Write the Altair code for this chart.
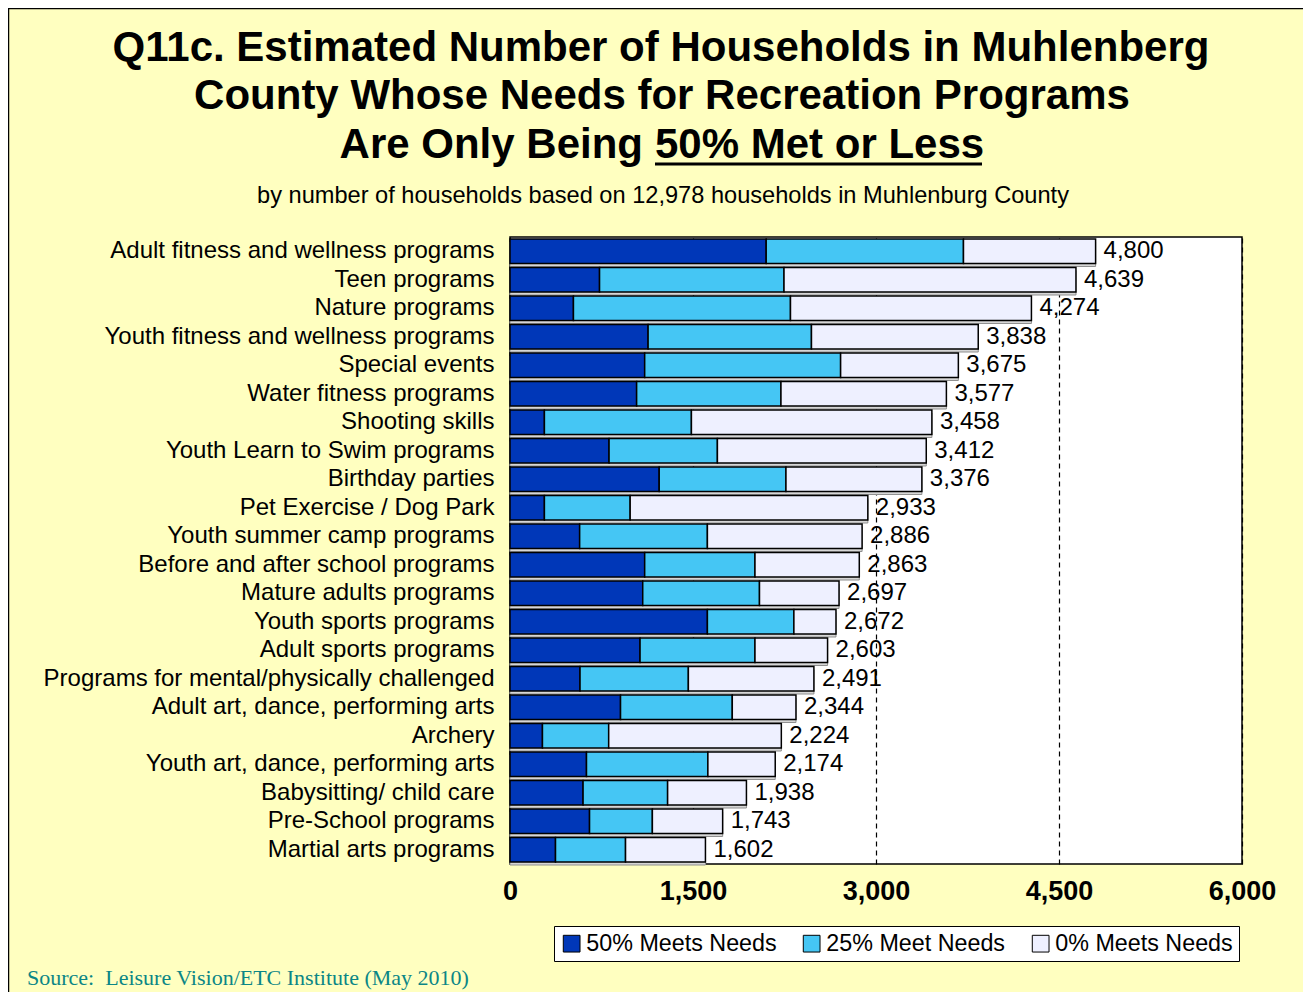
import altair as alt
import pandas as pd

categories = [
    "Adult fitness and wellness programs",
    "Teen programs",
    "Nature programs",
    "Youth fitness and wellness programs",
    "Special events",
    "Water fitness programs",
    "Shooting skills",
    "Youth Learn to Swim programs",
    "Birthday parties",
    "Pet Exercise / Dog Park",
    "Youth summer camp programs",
    "Before and after school programs",
    "Mature adults programs",
    "Youth sports programs",
    "Adult sports programs",
    "Programs for mental/physically challenged",
    "Adult art, dance, performing arts",
    "Archery",
    "Youth art, dance, performing arts",
    "Babysitting/ child care",
    "Pre-School programs",
    "Martial arts programs",
]
meets_50 = [2100, 734, 520, 1132, 1104, 1038, 282, 812, 1223, 282, 571,
            1104, 1088, 1618, 1066, 574, 906, 266, 627, 599, 652, 373]
meets_25 = [1617, 1512, 1779, 1339, 1606, 1183, 1205, 888, 1039, 703, 1047,
            904, 957, 709, 942, 888, 916, 543, 995, 693, 515, 574]
meets_0 = [1083, 2393, 1975, 1367, 965, 1356, 1971, 1712, 1114, 1948, 1268,
           855, 652, 345, 595, 1029, 522, 1415, 552, 646, 576, 655]
totals = [4800, 4639, 4274, 3838, 3675, 3577, 3458, 3412, 3376, 2933, 2886,
          2863, 2697, 2672, 2603, 2491, 2344, 2224, 2174, 1938, 1743, 1602]
levels = ["50% Meets Needs", "25% Meet Needs", "0% Meets Needs"]
x_ticks = [0, 1500, 3000, 4500, 6000]

title_lines = [
    "Q11c. Estimated Number of Households in Muhlenberg",
    "County Whose Needs for Recreation Programs",
]
title_line3a = "Are Only Being"
title_line3b = "50% Met or Less"
subtitle = "by number of households based on 12,978 households in Muhlenburg County"
source = "Source:\u00a0 Leisure Vision/ETC Institute (May 2010)"

colors = ["#0037B8", "#45C6F4", "#EEF0FF"]

rows = []
for i, c in enumerate(categories):
    for j, vals in enumerate([meets_50, meets_25, meets_0]):
        rows.append({"cat": c, "level": levels[j], "idx": j, "value": vals[i]})
long_df = pd.DataFrame(rows)
tot_df = pd.DataFrame({"cat": categories, "total": totals})

FONT = "Liberation Sans"

y_enc = alt.Y("cat:N", sort=categories,
              scale=alt.Scale(paddingInner=0.14, paddingOuter=0.07),
              axis=alt.Axis(title=None, ticks=False, domain=False, labelFontSize=24,
                            labelFont=FONT, labelColor="black", labelPadding=16,
                            labelLimit=600))
x_scale = alt.Scale(domain=[0, 6000], nice=False)
x_axis = alt.Axis(values=x_ticks, format=",.0f", grid=True, gridColor="black",
                  gridDash=[5, 4], gridWidth=1.2, ticks=False, domain=False,
                  labelFontSize=27, labelFontWeight="bold", labelFont=FONT,
                  labelColor="black", labelPadding=14, title=None,
                  labelFlush=False, labelOverlap=False)

shadow = alt.Chart(tot_df).mark_bar(yOffset=3, fill="#D6D6D6", stroke="#909090",
                                    strokeWidth=1).encode(
    y=y_enc, x=alt.X("total:Q", scale=x_scale, axis=x_axis))

bars = alt.Chart(long_df).mark_bar(stroke="black", strokeWidth=1.5).encode(
    y=y_enc,
    x=alt.X("value:Q", stack="zero", scale=x_scale, axis=x_axis),
    color=alt.Color("level:N", scale=alt.Scale(domain=levels, range=colors),
                    legend=alt.Legend(orient="none", legendX=44, legendY=689,
                                      direction="horizontal", title=None,
                                      fillColor="white", strokeColor="black",
                                      padding=6, labelFontSize=23.3, labelFont=FONT,
                                      labelColor="black", symbolType="square",
                                      symbolSize=280, symbolStrokeColor="black",
                                      symbolStrokeWidth=1, columnPadding=23,
                                      labelOffset=3, labelLimit=300)),
    order=alt.Order("idx:Q"),
)

labels = alt.Chart(tot_df).mark_text(align="left", baseline="middle", dx=8,
                                     fontSize=24, font=FONT, color="black").encode(
    y=y_enc, x=alt.X("total:Q", scale=x_scale, axis=x_axis),
    text=alt.Text("total:Q", format=","))

def txt(s, x, y, size, weight="normal", align="center", font=FONT, color="black"):
    return alt.Chart(pd.DataFrame({"t": [s]})).mark_text(
        align=align, baseline="alphabetic", fontSize=size, fontWeight=weight,
        font=font, color=color).encode(text="t:N", x=alt.value(x), y=alt.value(y))

t1 = txt(title_lines[0], 151, -176, 42, "bold")
t2 = txt(title_lines[1], 152, -128, 42, "bold")
t3a = txt(title_line3a, 133, -79, 42, "bold", align="right")
t3b = txt(title_line3b, 145, -79, 42, "bold", align="left")
underline = alt.Chart(pd.DataFrame({"t": [1]})).mark_rule(
    color="black", strokeWidth=3).encode(x=alt.value(145), x2=alt.value(472),
                                          y=alt.value(-73))
sub = txt(subtitle, 153, -34, 23.6)
src = txt(source, -483, 748, 22, align="left", font="Liberation Serif", color="#0B8686")

frame = alt.Chart(pd.DataFrame({"t": [1]})).mark_rect(
    fill=None, stroke="black", strokeWidth=1.5).encode(
    x=alt.value(-501.5), x2=alt.value(1000), y=alt.value(-228.5), y2=alt.value(1000))

chart = alt.layer(shadow, bars, labels, t1, t2, t3a, t3b, underline, sub, src, frame).properties(
    width=732, height=627,
    autosize=alt.AutoSizeParams(type="none"),
    padding={"left": 502, "top": 229, "right": 61, "bottom": 128},
    background="#FFFFC0",
).configure_view(fill="white", stroke="black", strokeWidth=1.5)

chart.save("out.html", embed_options={"renderer": "svg", "actions": False})
